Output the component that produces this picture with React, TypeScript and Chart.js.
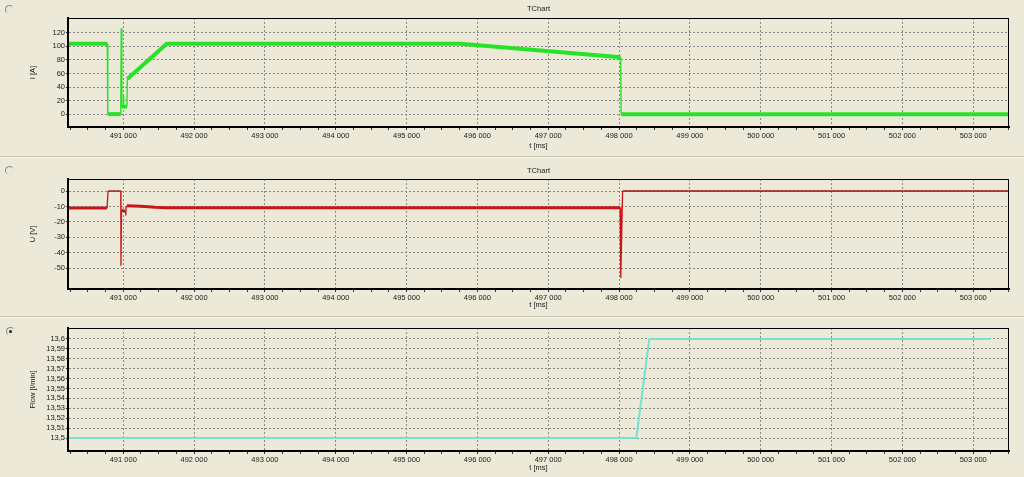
import React, { useEffect, useRef } from "react";
import { Chart, registerables } from "chart.js";

Chart.register(...registerables);

// ---------- data ----------
const X_MIN = 490220;
const X_MAX = 503505;
const X_MAJOR_STEP = 1000;
const X_MINOR_STEP = 250;
const X_TITLE = "t [ms]";

// Current I [A]
const currentTime = [490220, 490775, 490782, 490965, 490972, 490980, 491000, 491004, 491008, 491052, 491058, 491613, 495760, 498022, 498030, 503505];
const currentAmp = [104, 104, 0, 0, 126, 11, 11, 26, 11, 11, 52, 104, 104, 84, 0, 0];
const currentTicks = [0, 20, 40, 60, 80, 100, 120];

// Voltage U [V]
const voltageTime = [490220, 490772, 490785, 490965, 490968, 490975, 491030, 491036, 491042, 491052, 491250, 491450, 491600, 498015, 498024, 498050, 503505];
const voltageVal = [-11, -11, 0, 0, -48, -12.5, -13, -15.5, -10, -9.5, -9.8, -10.5, -10.8, -10.8, -56, 0, 0];
const voltageTicks = [0, -10, -20, -30, -40, -50];

// Flow [l/min]
const flowTime = [490220, 498243, 498427, 503240];
const flowVal = [13.5, 13.5, 13.6, 13.6];
const flowTicks = [13.5, 13.51, 13.52, 13.53, 13.54, 13.55, 13.56, 13.57, 13.58, 13.59, 13.6];

// ---------- helpers ----------
const BG = "#ECE9D8";
const FONT = "Liberation Sans, Arial, sans-serif";
const AREA_LEFT = 68;
const AREA_RIGHT = 1009;
const W = 1024;

const fmtX = (v: number) => {
  const k = Math.floor(v / 1000);
  const r = Math.round(v - k * 1000);
  return `${k} ${String(r).padStart(3, "0")}`;
};
const fmtFlow = (v: number) => {
  let s = v.toFixed(2);
  if (s.endsWith("0")) s = s.slice(0, -1);
  return s.replace(".", ",");
};

const textPlugin = {
  id: "panelText",
  afterDraw(chart: any, _args: any, opts: any) {
    const { ctx, chartArea: a } = chart;
    ctx.save();
    // frame
    ctx.strokeStyle = "#000";
    ctx.lineWidth = 1;
    ctx.strokeRect(a.left + 0.5, a.top + 0.5, a.right - a.left - 1, a.bottom - a.top - 1);
    ctx.lineWidth = 2;
    ctx.beginPath();
    ctx.moveTo(a.left, a.top);
    ctx.lineTo(a.left, a.bottom);
    ctx.lineTo(a.right, a.bottom);
    ctx.stroke();
    // texts
    ctx.fillStyle = "#1a1a1a";
    ctx.font = `7.5px ${FONT}`;
    ctx.textAlign = "center";
    ctx.textBaseline = "middle";
    const cx = (a.left + a.right) / 2;
    if (opts.title) ctx.fillText(opts.title, cx, opts.titleY);
    ctx.fillText(opts.xTitle, cx, opts.xTitleY);
    ctx.translate(33, (a.top + a.bottom) / 2);
    ctx.rotate(-Math.PI / 2);
    ctx.fillText(opts.yTitle, 0, 0);
    ctx.restore();
  },
};

type PanelProps = {
  top: number;
  height: number;
  areaTop: number;
  areaBottom: number;
  title?: string;
  titleY?: number;
  yTitle: string;
  xTitleY: number;
  xs: number[];
  ys: number[];
  yMin: number;
  yMax: number;
  yTicks: number[];
  yFmt: (v: number) => string;
  segWidth: (c: any) => number;
  segColor: (c: any) => string;
};

function Panel(p: PanelProps) {
  const ref = useRef<HTMLCanvasElement>(null);
  useEffect(() => {
    if (!ref.current) return;
    const xTickVals: number[] = [];
    for (let v = Math.ceil(X_MIN / X_MINOR_STEP) * X_MINOR_STEP; v <= X_MAX; v += X_MINOR_STEP) xTickVals.push(v);
    const data = p.xs.map((x, i) => ({ x, y: p.ys[i] }));
    const chart = new Chart(ref.current, {
      type: "line",
      data: {
        datasets: [
          {
            data,
            borderColor: p.segColor({}),
            borderWidth: 2,
            pointRadius: 0,
            tension: 0,
            borderJoinStyle: "round",
            segment: {
              borderWidth: (c: any) => p.segWidth(c),
              borderColor: (c: any) => p.segColor(c),
            },
          } as any,
        ],
      },
      options: {
        animation: false,
        responsive: false,
        devicePixelRatio: 1,
        layout: { padding: { left: 0, right: W - AREA_RIGHT, top: p.areaTop, bottom: 0 } },
        plugins: {
          legend: { display: false },
          title: { display: false },
          tooltip: { enabled: false },
          panelText: { title: p.title, titleY: p.titleY, yTitle: p.yTitle, xTitle: X_TITLE, xTitleY: p.xTitleY },
        } as any,
        scales: {
          x: {
            type: "linear",
            min: X_MIN,
            max: X_MAX,
            afterBuildTicks: (s: any) => {
              s.ticks = xTickVals.map((v) => ({ value: v }));
            },
            afterFit: (s: any) => {
              s.height = p.height - p.areaBottom;
            },
            ticks: {
              autoSkip: false,
              maxRotation: 0,
              padding: 1,
              color: "#1a1a1a",
              font: { family: FONT, size: 7.5 },
              callback: (v: any) => (Number(v) % X_MAJOR_STEP === 0 ? fmtX(Number(v)) : ""),
            },
            grid: {
              color: (c: any) => (c.tick && c.tick.value % X_MAJOR_STEP === 0 ? "#8a8a8a" : "rgba(0,0,0,0)"),
              lineWidth: 1,
              drawTicks: true,
              tickLength: 3,
              tickColor: "#333",
              tickBorderDash: [],
            } as any,
            border: { display: true, color: "#000", width: 2, dash: [2, 2] },
          },
          y: {
            type: "linear",
            min: p.yMin,
            max: p.yMax,
            afterBuildTicks: (s: any) => {
              s.ticks = p.yTicks.map((v) => ({ value: v }));
            },
            afterFit: (s: any) => {
              s.width = AREA_LEFT;
            },
            ticks: {
              autoSkip: false,
              padding: 1,
              color: "#1a1a1a",
              font: { family: FONT, size: 7.5 },
              callback: (v: any) => p.yFmt(Number(v)),
            },
            grid: {
              color: "#8a8a8a",
              lineWidth: 1,
              drawTicks: true,
              tickLength: 2,
              tickColor: "#333",
              tickBorderDash: [],
            } as any,
            border: { display: true, color: "#000", width: 2, dash: [2, 2] },
          },
        },
      },
      plugins: [textPlugin],
    });
    return () => chart.destroy();
  }, []);
  return (
    <canvas
      ref={ref}
      width={W}
      height={p.height}
      style={{ position: "absolute", left: 0, top: p.top, width: W, height: p.height, display: "block" }}
    />
  );
}

function Radio({ x, y, checked }: { x: number; y: number; checked?: boolean }) {
  return (
    <div
      style={{
        position: "absolute",
        left: x - 4,
        top: y - 4,
        width: 7,
        height: 7,
        borderRadius: "50%",
        border: "1px solid",
        borderColor: "#8c8c84 #e4e2d6 #e4e2d6 #8c8c84",
        background: BG,
      }}
    >
      {checked ? (
        <div style={{ position: "absolute", left: 2, top: 2, width: 3, height: 3, borderRadius: "50%", background: "#222" }} />
      ) : null}
    </div>
  );
}

const thinIfVertical = (c: any, thick: number, thin: number, limit: number) =>
  c.p0 && c.p1 && Math.abs(c.p1.parsed.x - c.p0.parsed.x) < limit ? thin : thick;

export default function App() {
  return (
    <div style={{ position: "absolute", left: 0, top: 0, width: W, height: 477, background: BG, overflow: "hidden" }}>
      <Panel
        top={0}
        height={156}
        areaTop={18}
        areaBottom={127}
        title="TChart"
        titleY={9}
        yTitle="I [A]"
        xTitleY={146}
        xs={currentTime}
        ys={currentAmp}
        yMin={-19}
        yMax={142}
        yTicks={currentTicks}
        yFmt={(v) => String(v)}
        segWidth={(c) => thinIfVertical(c, 4, 1.4, 12)}
        segColor={() => "#27E327"}
      />
      <div style={{ position: "absolute", left: 0, top: 156, width: W, height: 1, background: "#c9c6b6" }} />
      <div style={{ position: "absolute", left: 0, top: 157, width: W, height: 1, background: "#f8f7f0" }} />
      <Panel
        top={158}
        height={158}
        areaTop={21}
        areaBottom={131}
        title="TChart"
        titleY={13}
        yTitle="U [V]"
        xTitleY={147}
        xs={voltageTime}
        ys={voltageVal}
        yMin={-63.4}
        yMax={7.8}
        yTicks={voltageTicks}
        yFmt={(v) => String(v)}
        segWidth={(c) => {
          if (c.p0 && c.p0.parsed && c.p0.parsed.y === 0 && c.p1.parsed.y === 0) return 1.4;
          return thinIfVertical(c, 3, 1.3, 30);
        }}
        segColor={(c) => {
          if (c.p0 && c.p0.parsed && c.p0.parsed.y === 0 && c.p1.parsed.y === 0) return "#9E1010";
          return "#C81616";
        }}
      />
      <div style={{ position: "absolute", left: 0, top: 316, width: W, height: 1, background: "#c9c6b6" }} />
      <div style={{ position: "absolute", left: 0, top: 317, width: W, height: 1, background: "#f8f7f0" }} />
      <Panel
        top={318}
        height={159}
        areaTop={10}
        areaBottom={133}
        yTitle="Flow [l/min]"
        xTitleY={150}
        xs={flowTime}
        ys={flowVal}
        yMin={13.4869}
        yMax={13.611}
        yTicks={flowTicks}
        yFmt={fmtFlow}
        segWidth={() => 2}
        segColor={() => "#72E2D2"}
      />
      <Radio x={9} y={9} />
      <Radio x={9} y={170} />
      <Radio x={10} y={331} checked />
    </div>
  );
}
